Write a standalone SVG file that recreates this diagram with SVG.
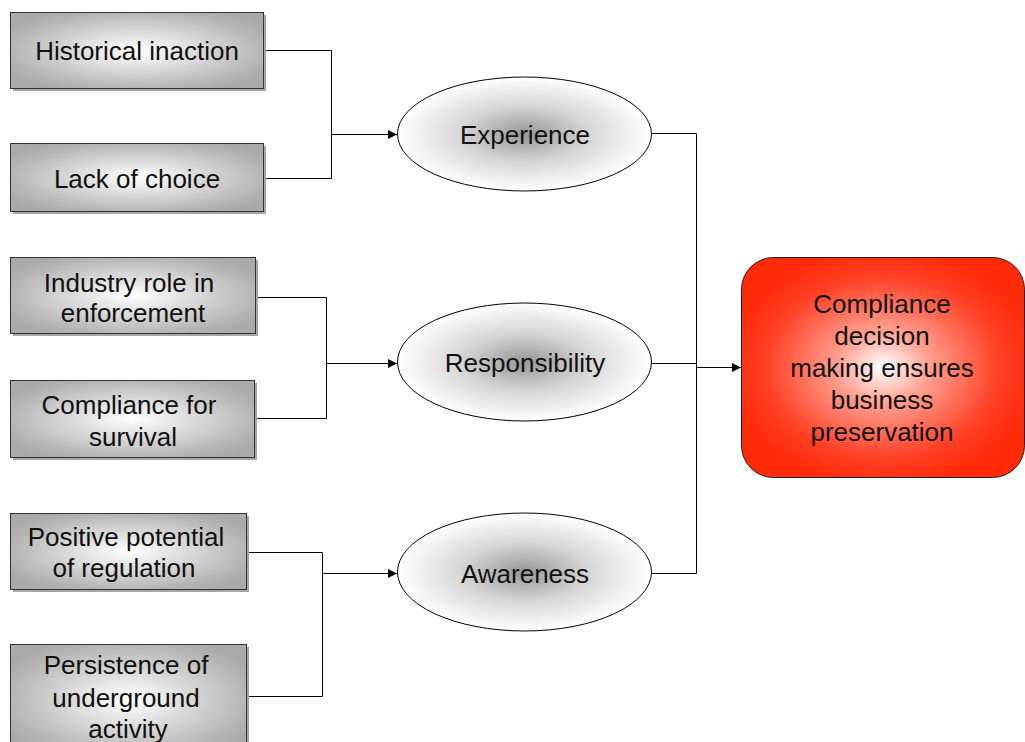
<svg xmlns="http://www.w3.org/2000/svg" width="1025" height="742" viewBox="0 0 1025 742">
  <defs>
    <radialGradient id="boxFill" cx="0.5" cy="0.5" r="0.6">
      <stop offset="0" stop-color="#ffffff"/>
      <stop offset="0.85" stop-color="#b4b4b4"/>
      <stop offset="1" stop-color="#aaaaaa"/>
    </radialGradient>
    <radialGradient id="ovalFill" cx="0.5" cy="0.5" r="0.5">
      <stop offset="0" stop-color="#979797"/>
      <stop offset="0.5" stop-color="#d6d6d6"/>
      <stop offset="1" stop-color="#ffffff"/>
    </radialGradient>
    <radialGradient id="goalFill" cx="0.5" cy="0.5" r="0.55">
      <stop offset="0" stop-color="#ffffff"/>
      <stop offset="0.3" stop-color="#ffa090"/>
      <stop offset="0.75" stop-color="#ff4025"/>
      <stop offset="1" stop-color="#ff2a08"/>
    </radialGradient>
    <marker id="arrow" viewBox="0 0 10 10" refX="10" refY="5" markerWidth="11" markerHeight="9" markerUnits="userSpaceOnUse" orient="auto">
      <path d="M0,0 L10,5 L0,10 Z" fill="#000"/>
    </marker>
  </defs>
  <style>
    .shadow { fill: #a6a6a6; }
    .box { fill: url(#boxFill); stroke: #333; stroke-width: 1; }
    .oval { fill: url(#ovalFill); stroke: #000; stroke-width: 1; }
    .goal { fill: url(#goalFill); stroke: #222; stroke-width: 1; }
    .label { font-family: "Liberation Sans", Arial, sans-serif; font-size: 26px; fill: #111; text-anchor: middle; }
    .wire { fill: none; stroke: #000; stroke-width: 1; }
  </style>

  <rect width="1025" height="742" fill="#ffffff"/>

  <!-- connectors -->
  <g id="connectors">
    <path class="wire" d="M263,50.5 H331.5 V178.5 H263"/>
    <path class="wire" d="M331.5,134.5 H397" marker-end="url(#arrow)"/>
    <path class="wire" d="M255,297.5 H326.5 V418.5 H255"/>
    <path class="wire" d="M326.5,363.5 H397" marker-end="url(#arrow)"/>
    <path class="wire" d="M246,552.5 H322.5 V696.5 H246"/>
    <path class="wire" d="M322.5,573.5 H397" marker-end="url(#arrow)"/>
    <path class="wire" d="M651,133.5 H696.5 V573.5 H651"/>
    <path class="wire" d="M651,363.5 H696.5"/>
    <path class="wire" d="M696.5,367.5 H741" marker-end="url(#arrow)"/>
  </g>

  <!-- factor boxes -->
  <g id="historical-inaction">
    <rect class="shadow" x="13" y="15" width="253" height="76"/>
    <rect class="box" x="10.5" y="12.5" width="253" height="76"/>
    <text class="label" x="137" y="60">Historical inaction</text>
  </g>
  <g id="lack-of-choice">
    <rect class="shadow" x="13" y="146" width="253" height="68"/>
    <rect class="box" x="10.5" y="143.5" width="253" height="68"/>
    <text class="label" x="137" y="188">Lack of choice</text>
  </g>
  <g id="industry-role">
    <rect class="shadow" x="13" y="260" width="245" height="76"/>
    <rect class="box" x="10.5" y="257.5" width="245" height="76"/>
    <text class="label" x="129" y="292">Industry role in</text>
    <text class="label" x="133" y="322">enforcement</text>
  </g>
  <g id="compliance-survival">
    <rect class="shadow" x="13" y="383" width="244" height="77"/>
    <rect class="box" x="10.5" y="380.5" width="244" height="77"/>
    <text class="label" x="129" y="414">Compliance for</text>
    <text class="label" x="133" y="446">survival</text>
  </g>
  <g id="positive-potential">
    <rect class="shadow" x="13" y="516" width="236" height="76"/>
    <rect class="box" x="10.5" y="513.5" width="236" height="76"/>
    <text class="label" x="126" y="546">Positive potential</text>
    <text class="label" x="124" y="577">of regulation</text>
  </g>
  <g id="persistence-underground">
    <rect class="shadow" x="13" y="647" width="236" height="110"/>
    <rect class="box" x="10.5" y="644.5" width="236" height="110"/>
    <text class="label" x="126" y="674">Persistence of</text>
    <text class="label" x="126" y="707">underground</text>
    <text class="label" x="128" y="738">activity</text>
  </g>

  <!-- themes -->
  <g id="experience">
    <ellipse class="oval" cx="524.5" cy="134" rx="127" ry="57"/>
    <text class="label" x="525" y="144">Experience</text>
  </g>
  <g id="responsibility">
    <ellipse class="oval" cx="524.5" cy="362" rx="127" ry="59"/>
    <text class="label" x="525" y="372">Responsibility</text>
  </g>
  <g id="awareness">
    <ellipse class="oval" cx="524.5" cy="572" rx="127" ry="59"/>
    <text class="label" x="525" y="583">Awareness</text>
  </g>

  <!-- outcome -->
  <g id="compliance-decision">
    <rect class="goal" x="741.5" y="257.5" width="283" height="220" rx="32" ry="32"/>
    <text class="label" x="882" y="313">Compliance</text>
    <text class="label" x="882" y="345">decision</text>
    <text class="label" x="882" y="377">making ensures</text>
    <text class="label" x="882" y="409">business</text>
    <text class="label" x="882" y="441">preservation</text>
  </g>
</svg>
